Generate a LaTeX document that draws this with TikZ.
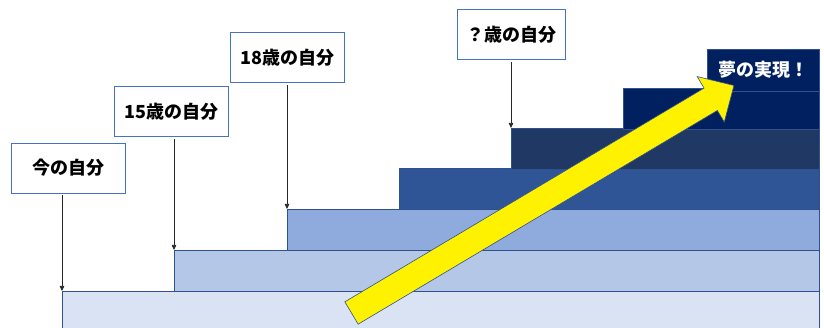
\documentclass[tikz,border=0pt]{standalone}
\usepackage{fontspec}
\setmainfont{Noto Sans CJK JP}
\usepackage{tikz}
\usetikzlibrary{positioning,calc,arrows.meta}
\definecolor{StepA}{HTML}{DAE3F3}
\definecolor{StepB}{HTML}{B4C7E7}
\definecolor{StepC}{HTML}{8FAADC}
\definecolor{StepD}{HTML}{2F5597}
\definecolor{StepE}{HTML}{203864}
\definecolor{StepF}{HTML}{002060}
\definecolor{EdgeBlue}{HTML}{2F528F}
\definecolor{BoxEdge}{HTML}{4472C4}
\tikzset{
  stepline/.style={draw=EdgeBlue,line width=0.6pt},
  labelbox/.style={draw=BoxEdge,line width=0.8pt,fill=white,minimum width=114pt,
    minimum height=50pt,inner sep=0pt,font=\fontsize{18pt}{20pt}\selectfont\bfseries},
  pointer/.style={-{Triangle[length=5pt,width=4.5pt]},line width=0.7pt,black!85,shorten <=2pt}
}

\begin{document}
\begin{tikzpicture}[x=1pt,y=-1pt]
  \useasboundingbox (0,0) rectangle (824,328);
  % steps
  \foreach \i/\sx/\sy/\col in {1/62/291/StepA,2/174/250/StepB,3/287/209/StepC,
      4/399/168/StepD,5/511/128/StepE,6/623/88/StepF}{
    \draw[stepline,fill=\col] (\sx,\sy) rectangle (819,\sy+41);
    \coordinate (s\i) at (\sx,\sy);
  }
  \draw[stepline,fill=StepF] (707,49) rectangle (819,91);
  \coordinate (top) at (763,70);
  % yellow arrow
  \begin{scope}[shift={(351.5,313)},rotate=30.75]
    \draw[EdgeBlue,line width=0.6pt,fill=yellow] (0pt,-13pt) -- (418pt,-13pt) -- (418pt,-26.5pt)
      -- (445pt,0pt) -- (418pt,26.5pt) -- (418pt,13pt) -- (0pt,13pt) -- cycle;
  \end{scope}
  \node[white,font=\fontsize{18pt}{20pt}\selectfont\bfseries] (dream) at (top) {夢の実現！};
  % labels
  \node[labelbox] (now) at (68,168) {今の自分};
  \node[labelbox] (fifteen) at (171.5,111.5) {15歳の自分};
  \node[labelbox] (eighteen) at (287.5,57.5) {18歳の自分};
  \node[labelbox,minimum width=108pt] (someday) at (511,34.5) {？歳の自分};
  \draw[pointer] (now.south -| s1) -- (s1);
  \draw[pointer] (fifteen.south -| s2) -- (s2);
  \draw[pointer] (eighteen.south -| s3) -- (s3);
  \draw[pointer] (someday.south -| s5) -- (s5);
\end{tikzpicture}
\end{document}
